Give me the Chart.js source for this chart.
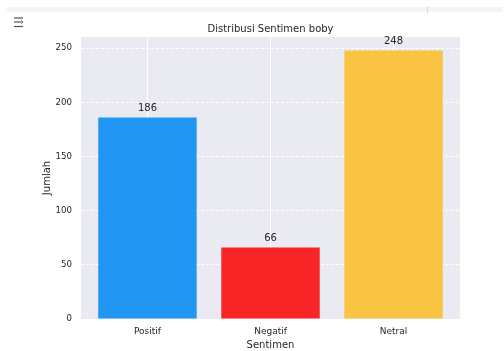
<!DOCTYPE html>
<html>
<head>
<meta charset="utf-8">
<script src="https://cdn.jsdelivr.net/npm/chart.js@4/dist/chart.umd.min.js"></script>
<style>
  html, body { margin:0; padding:0; background:#fff; width:504px; height:351px; overflow:hidden; }
  #band { position:absolute; left:7px; top:7px; width:496px; height:5px; background:#f4f4f4; }
  #vline { position:absolute; left:427px; top:6px; width:1px; height:7px; background:#d8d8d8; }
  #icon { position:absolute; left:13px; top:17px; }
  #wrap { position:absolute; left:0; top:0; width:504px; height:351px; }
</style>
</head>
<body>
<div id="band"></div>
<div id="vline"></div>
<svg id="icon" width="14" height="11" viewBox="0 0 14 11">
  <line x1="1" y1="1" x2="10" y2="1" stroke="#555" stroke-width="1.2"/>
  <line x1="1" y1="5" x2="8" y2="5" stroke="#555" stroke-width="1.2"/>
  <polyline points="8,3.5 10,5 8,6.5" fill="none" stroke="#555" stroke-width="1"/>
  <line x1="1" y1="9.5" x2="10" y2="9.5" stroke="#555" stroke-width="1.2"/>
</svg>
<div id="wrap"><canvas id="c" width="504" height="351"></canvas></div>
<script>
const categories = ['Positif', 'Negatif', 'Netral'];
const counts = [186, 66, 248];
const barColors = ['#2196F3', '#F72525', '#F9C344'];
const yTicks = [0, 50, 100, 150, 200, 250];
const chartTitle = 'Distribusi Sentimen boby';
const xLabel = 'Sentimen';
const yLabel = 'Jumlah';

const textColor = '#262626';
const font = 'DejaVu Sans';

const bgPlugin = {
  id: 'bg',
  beforeDraw(chart) {
    const {ctx, chartArea: a} = chart;
    ctx.save();
    ctx.fillStyle = '#EAEAF2';
    ctx.fillRect(a.left, a.top, a.right - a.left, a.bottom - a.top);
    ctx.restore();
  },
  afterDraw(chart) {
    const {ctx, chartArea: a} = chart;
    ctx.save();
    ctx.fillStyle = textColor;
    ctx.font = '10px "' + font + '"';
    ctx.textAlign = 'center';
    ctx.textBaseline = 'middle';
    ctx.fillText(chartTitle, (a.left + a.right) / 2, 29);
    ctx.restore();
  }
};

const labelPlugin = {
  id: 'vals',
  afterDatasetsDraw(chart) {
    const {ctx} = chart;
    const meta = chart.getDatasetMeta(0);
    ctx.save();
    ctx.fillStyle = textColor;
    ctx.font = '10px "' + font + '"';
    ctx.textAlign = 'center';
    ctx.textBaseline = 'middle';
    meta.data.forEach((bar, i) => {
      ctx.fillText(String(counts[i]), bar.x, bar.y - 9.5);
    });
    ctx.restore();
  }
};

new Chart(document.getElementById('c'), {
  type: 'bar',
  data: {
    datasets: [{
      data: counts.map((v, i) => ({x: i, y: v})),
      backgroundColor: barColors,
      borderWidth: 0,
      barPercentage: 0.8,
      categoryPercentage: 1.0
    }]
  },
  options: {
    responsive: false,
    animation: false,
    devicePixelRatio: 1,
    layout: { padding: { left: 0, top: 37, right: 44, bottom: 0 } },
    plugins: { legend: { display: false }, tooltip: { enabled: false }, title: { display: false } },
    scales: {
      x: {
        type: 'linear',
        min: -0.54, max: 2.54,
        offset: false,
        afterBuildTicks(s) { s.ticks = categories.map((c, i) => ({value: i})); },
        afterFit(s) { s.height = 32; },
        grid: { color: '#ffffff', lineWidth: 1, drawTicks: false, offset: false },
        border: { display: false },
        ticks: {
          padding: 7,
          color: textColor,
          font: { family: font, size: 9 },
          callback: (v) => categories[v]
        },
        title: {
          display: true, text: xLabel, color: textColor,
          font: { family: font, size: 10 },
          padding: { top: 0, bottom: 0 }
        }
      },
      y: {
        min: 0, max: 260.4,
        afterBuildTicks(s) { s.ticks = yTicks.map(v => ({value: v})); },
        afterFit(s) { s.width = 81; },
        grid: { color: '#ffffff', lineWidth: 1, drawTicks: false },
        border: { display: false, dash: [3, 2] },
        ticks: {
          padding: 9,
          color: textColor,
          font: { family: font, size: 8.6 }
        },
        title: {
          display: true, text: yLabel, color: textColor,
          font: { family: font, size: 10 },
          padding: { top: 41, bottom: 0 }
        }
      }
    }
  },
  plugins: [bgPlugin, labelPlugin]
});
</script>
</body>
</html>
